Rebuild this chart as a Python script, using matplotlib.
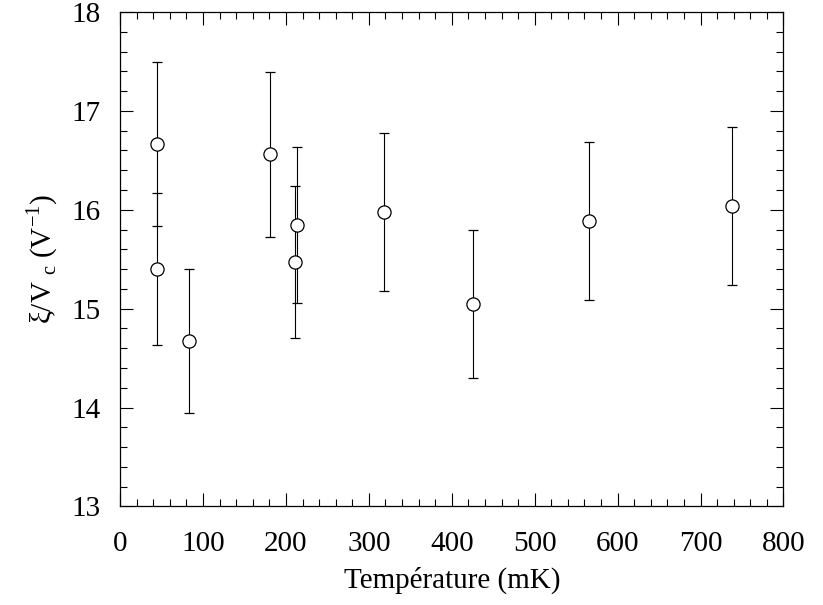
import matplotlib
matplotlib.use("Agg")
import matplotlib.pyplot as plt
from matplotlib.ticker import MultipleLocator

# values
temperature = [45, 45, 83, 181, 211, 213, 318, 425, 566, 738]
xi_vc = [16.67, 15.40, 14.67, 16.56, 15.47, 15.85, 15.98, 15.05, 15.89, 16.04]
xi_err = [0.83, 0.77, 0.73, 0.83, 0.77, 0.79, 0.80, 0.75, 0.80, 0.80]

plt.rcParams["font.family"] = ["Liberation Serif", "DejaVu Serif"]
plt.rcParams["mathtext.fontset"] = "custom"
plt.rcParams["mathtext.rm"] = "Liberation Serif"

fig = plt.figure(figsize=(8.23, 6.05), dpi=100)
ax = fig.add_axes([0.146, 0.163, 0.806, 0.817])

ax.errorbar(temperature, xi_vc, yerr=xi_err, fmt="o", mfc="white", mec="black",
            ms=9.5, mew=0.9, ecolor="black", elinewidth=0.8, capsize=3.6,
            capthick=0.8, color="black")

ax.set_xlim(0, 800)
ax.set_ylim(13, 18)
ax.xaxis.set_major_locator(MultipleLocator(100))
ax.xaxis.set_minor_locator(MultipleLocator(20))
ax.yaxis.set_major_locator(MultipleLocator(1))
ax.yaxis.set_minor_locator(MultipleLocator(0.2))
ax.tick_params(which="both", direction="in", top=True, right=True, labelsize=21, width=0.8)
ax.tick_params(which="major", length=9.5)
ax.tick_params(which="minor", length=5)
ax.tick_params(axis="x", which="major", pad=18)
ax.tick_params(axis="y", which="major", pad=14)
for sp in ax.spines.values():
    sp.set_linewidth(0.9)

ax.set_xlabel("Température (mK)", fontsize=21, labelpad=7)
ax.set_ylabel(r"ξ/V$_\mathregular{\ c}$ (V$^\mathregular{-1}$)", fontsize=21, labelpad=8)

fig.savefig("out.png", dpi=100)
